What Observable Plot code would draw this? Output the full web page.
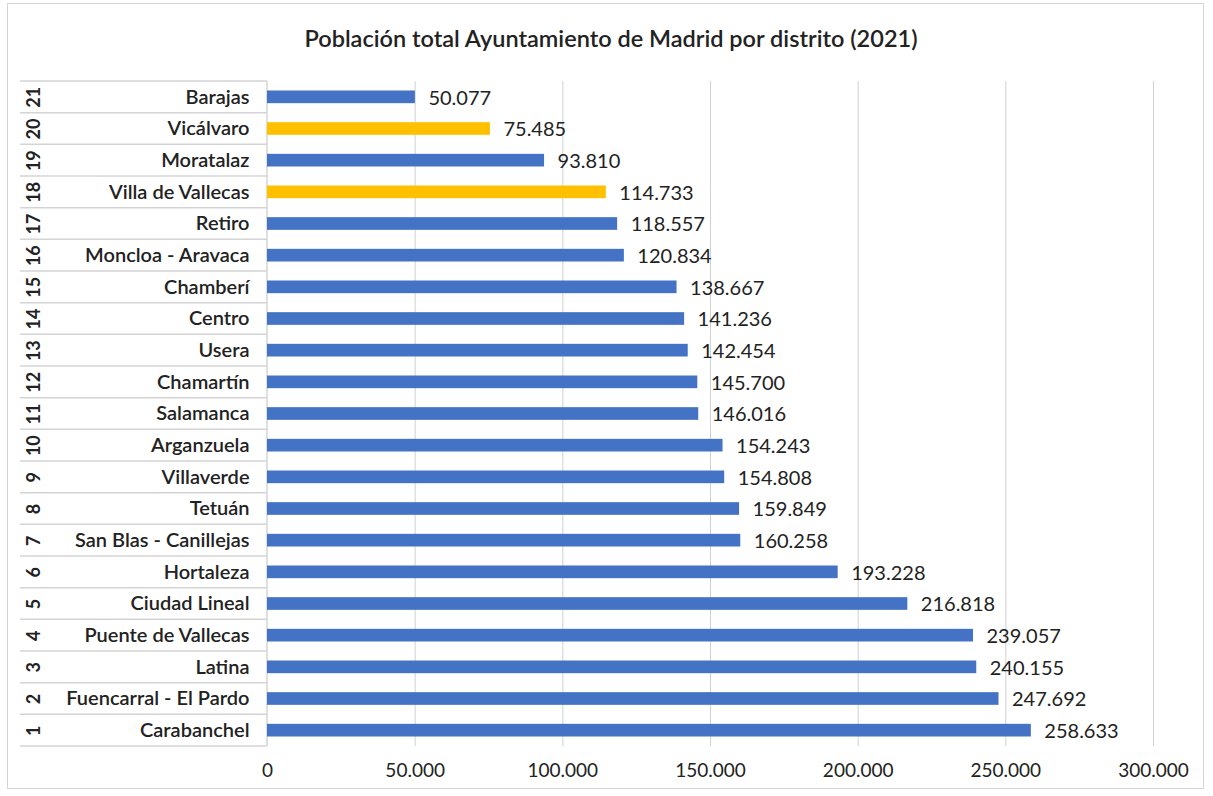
<!DOCTYPE html>
<html><head><meta charset="utf-8">
<script src="https://cdn.jsdelivr.net/npm/d3@7"></script>
<script src="https://cdn.jsdelivr.net/npm/@observablehq/plot@0.6"></script>
<style>
body{margin:0;background:#fff;font-family:Lato,sans-serif;}
#frame{position:absolute;left:7px;top:3px;width:1197px;height:786px;border:1px solid #d4d4d4;box-sizing:border-box;}
#title{position:absolute;left:0;width:1222px;top:24px;text-align:center;font-size:23.5px;font-weight:600;color:#222;}
#chart{position:absolute;left:0;top:0;}
</style></head>
<body>
<div id="frame"></div>
<div id="title">Población total Ayuntamiento de Madrid por distrito (2021)</div>
<div id="chart"></div>
<script>
const ranks = [21,20,19,18,17,16,15,14,13,12,11,10,9,8,7,6,5,4,3,2,1];
const districts = ["Barajas","Vicálvaro","Moratalaz","Villa de Vallecas","Retiro","Moncloa - Aravaca","Chamberí","Centro","Usera","Chamartín","Salamanca","Arganzuela","Villaverde","Tetuán","San Blas - Canillejas","Hortaleza","Ciudad Lineal","Puente de Vallecas","Latina","Fuencarral - El Pardo","Carabanchel"];
const population = [50077,75485,93810,114733,118557,120834,138667,141236,142454,145700,146016,154243,154808,159849,160258,193228,216818,239057,240155,247692,258633];
const highlighted = ["Vicálvaro","Villa de Vallecas"];
const xTicks = [0,50000,100000,150000,200000,250000,300000];

const data = districts.map((d,i)=>({district:d, rank:ranks[i], value:population[i], hl:highlighted.includes(d)}));
const fmt = v => v.toLocaleString("de-DE");

const plot = Plot.plot({
  width:1213, height:796,
  marginLeft:267, marginRight:60, marginTop:81, marginBottom:50,
  style:{fontFamily:"Lato, sans-serif", background:"transparent"},
  x:{domain:[0,300000], ticks:xTicks, tickFormat:fmt},
  y:{domain:districts, paddingInner:0.6, paddingOuter:0.3, round:false, axis:null},
  marks:[
    Plot.gridX(xTicks.slice(1),{stroke:"#d0d0d0", strokeOpacity:1}),
    Plot.axisX({ticks:xTicks, tickFormat:fmt, tickSize:0, tickPadding:17, fontSize:19, fill:"#222", label:null}),
    Plot.barX(data,{x:"value", y:"district", fill:d=>d.hl?"#FFC000":"#4472C4"}),
    Plot.text(data,{x:"value", y:"district", text:d=>fmt(d.value), textAnchor:"start", dx:13, dy:1, fontSize:20, fill:"#222"}),
    Plot.text(data,{y:"district", text:"district", frameAnchor:"left", textAnchor:"end", dx:-18, fontSize:20, fill:"#222", fontWeight:600}),
    Plot.text(data,{y:"district", text:d=>String(d.rank), frameAnchor:"left", textAnchor:"middle", dx:-233, rotate:-90, fontSize:18, fill:"#222", fontWeight:700})
  ]
});
document.getElementById("chart").appendChild(plot);

// category separator lines for the label table, positioned via Plot's y scale
const ys = plot.scale("y");
const xs = plot.scale("x");
const step = ys.step;
const svg = d3.select(plot);
const x0 = xs.apply(0);
const g = svg.insert("g",":first-child").attr("stroke","#d4d4d4").attr("stroke-width",1.5);
const bounds = districts.map(d=>ys.apply(d) + ys.bandwidth/2 - step/2);
bounds.push(ys.apply(districts[districts.length-1]) + ys.bandwidth/2 + step/2);
bounds.forEach(b=>g.append("line").attr("x1",20).attr("x2",x0).attr("y1",b).attr("y2",b));
g.append("line").attr("x1",x0).attr("x2",x0).attr("y1",bounds[0]).attr("y2",bounds[bounds.length-1]);
</script>
</body></html>
